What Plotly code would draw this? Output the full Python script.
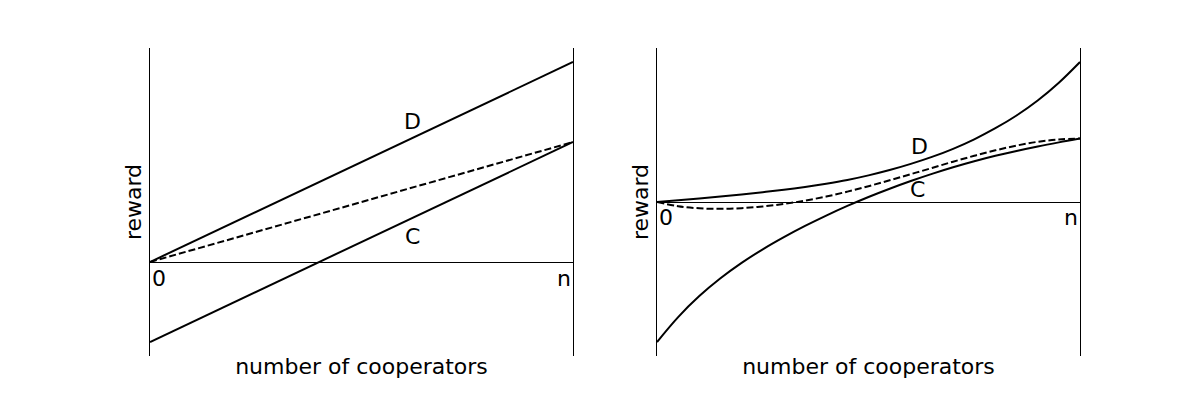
import plotly.graph_objects as go
from plotly.subplots import make_subplots

# left panel: linear rewards (fraction of cooperators, 0..n)
lin_x = [0.0, 1.0]
lin_defect = [0.0, 1.0]
lin_coop = [-0.4, 0.6]
lin_mean = [0.0, 0.6]

# right panel: nonlinear rewards
nl_x = [0.0, 0.05, 0.1, 0.15, 0.2, 0.25, 0.3, 0.35, 0.4, 0.45, 0.5,
        0.55, 0.6, 0.65, 0.7, 0.75, 0.8, 0.85, 0.9, 0.95, 1.0]
nl_defect = [0.0, 0.012, 0.025, 0.039, 0.054, 0.07, 0.087, 0.107, 0.13, 0.157, 0.19,
             0.228, 0.272, 0.322, 0.38, 0.448, 0.527, 0.618, 0.725, 0.852, 1.0]
nl_coop = [-1.0, -0.822, -0.672, -0.545, -0.435, -0.338, -0.251, -0.171, -0.097, -0.028, 0.036,
           0.095, 0.15, 0.201, 0.248, 0.291, 0.33, 0.365, 0.397, 0.426, 0.453]
nl_mean = [0.0, -0.03, -0.045, -0.049, -0.044, -0.032, -0.014, 0.01, 0.039, 0.074, 0.113,
           0.155, 0.199, 0.243, 0.288, 0.33, 0.369, 0.403, 0.43, 0.447, 0.453]

FONT = "DejaVu Sans"
FS = 22
solid = dict(color="black", width=2)
dashed = dict(color="black", width=2, dash="7px,3px")

fig = make_subplots(rows=1, cols=2)

fig.add_trace(go.Scatter(x=lin_x, y=lin_defect, mode="lines", line=solid), row=1, col=1)
fig.add_trace(go.Scatter(x=lin_x, y=lin_coop, mode="lines", line=solid), row=1, col=1)
fig.add_trace(go.Scatter(x=lin_x, y=lin_mean, mode="lines", line=dashed), row=1, col=1)

fig.add_trace(go.Scatter(x=nl_x, y=nl_defect, mode="lines", line=dict(solid, shape="spline")), row=1, col=2)
fig.add_trace(go.Scatter(x=nl_x, y=nl_coop, mode="lines", line=dict(solid, shape="spline")), row=1, col=2)
fig.add_trace(go.Scatter(x=nl_x, y=nl_mean, mode="lines", line=dict(dashed, shape="spline")), row=1, col=2)

xa = dict(range=[0, 1], showgrid=False, zeroline=False, showline=False,
          showticklabels=False, ticks="", automargin=False,
          title=dict(text="number of cooperators", font=dict(family=FONT, size=FS, color="black"), standoff=2))
ya = dict(showgrid=False, showticklabels=False, ticks="", automargin=False,
          showline=True, mirror=True, linecolor="black", linewidth=1,
          zeroline=True, zerolinecolor="black", zerolinewidth=1,
          title=dict(text="reward", font=dict(family=FONT, size=FS, color="black"), standoff=1))

fig.update_layout(
    width=1200, height=400,
    margin=dict(l=0, r=0, t=0, b=0),
    paper_bgcolor="white", plot_bgcolor="white",
    showlegend=False,
    font=dict(family=FONT, size=FS, color="black"),
    xaxis=dict(xa, domain=[0.125, 0.4775]),
    xaxis2=dict(xa, domain=[0.5475, 0.9]),
    yaxis=dict(ya, domain=[0.11, 0.88], range=[-0.47, 1.07]),
    yaxis2=dict(ya, domain=[0.11, 0.88], range=[-1.1, 1.1]),
)

labels = [
    ("x", "y", 0.62, 0.705, "D", "center"),
    ("x", "y", 0.62, 0.13, "C", "center"),
    ("x", "y", 0.0, -0.08, "0", "left"),
    ("x", "y", 1.0, -0.08, "n", "right"),
    ("x2", "y2", 0.62, 0.393, "D", "center"),
    ("x2", "y2", 0.617, 0.086, "C", "center"),
    ("x2", "y2", 0.0, -0.114, "0", "left"),
    ("x2", "y2", 1.0, -0.114, "n", "right"),
]
for xr, yr, x, y, t, anchor in labels:
    fig.add_annotation(xref=xr, yref=yr, x=x, y=y, text=t, showarrow=False,
                       xanchor=anchor, yanchor="middle",
                       font=dict(family=FONT, size=FS, color="black"))

fig.write_html("out.html", config={"displayModeBar": False},
               post_script="document.body.style.margin='0';")
